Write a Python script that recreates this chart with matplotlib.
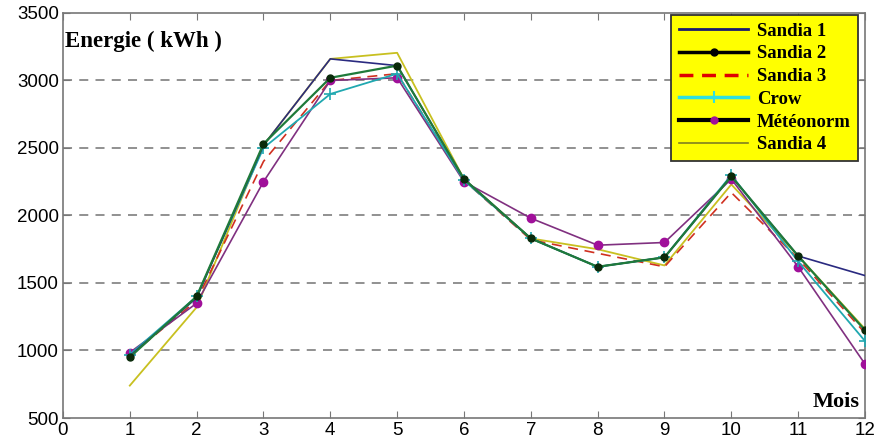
import matplotlib
matplotlib.use("Agg")
import matplotlib.pyplot as plt
from matplotlib.lines import Line2D

months = [1, 2, 3, 4, 5, 6, 7, 8, 9, 10, 11, 12]
sandia1 = [960, 1390, 2520, 3160, 3110, 2270, 1830, 1620, 1690, 2290, 1700, 1555]
sandia2 = [950, 1400, 2530, 3020, 3110, 2270, 1830, 1620, 1690, 2290, 1700, 1150]
sandia3 = [960, 1370, 2400, 3000, 3050, 2260, 1820, 1720, 1620, 2170, 1680, 1130]
crow = [970, 1400, 2500, 2900, 3050, 2260, 1830, 1620, 1690, 2300, 1660, 1070]
meteonorm = [985, 1350, 2250, 3000, 3020, 2250, 1980, 1780, 1800, 2270, 1620, 900]
sandia4 = [740, 1320, 2520, 3160, 3205, 2270, 1830, 1750, 1630, 2230, 1700, 1160]
legend_labels = ["Sandia 1", "Sandia 2", "Sandia 3", "Crow", "Météonorm", "Sandia 4"]

fig = plt.figure(figsize=(8.83, 4.40), dpi=100)
ax = fig.add_axes([0.0713, 0.05, 0.9083, 0.9205])

ax.plot(months, sandia4, color="#c8c020", lw=1.3, zorder=2)
ax.plot(months, sandia3, color="#d03020", lw=1.2, ls=(0, (6, 4)), zorder=2)
ax.plot(months, meteonorm, color="#803080", lw=1.2, marker="o", ms=6,
        mfc="#a0109a", mec="#a0109a", zorder=3)
ax.plot(months, crow, color="#20a8b0", lw=1.3, marker="+", ms=8, mew=1.2,
        mec="#20a8b0", zorder=3)
ax.plot(months, sandia1, color="#2a2a80", lw=1.2, zorder=3)
ax.plot(months, sandia2, color="#1f7a3a", lw=1.6, marker="o", ms=5,
        mfc="#0a2a0a", mec="#0a2a0a", zorder=4)

ax.set_xlim(0, 12)
ax.set_ylim(500, 3500)
ax.set_xticks(range(0, 13))
ax.set_yticks(range(500, 3501, 500))
for y in range(1000, 3001, 500):
    ax.axhline(y, color="#888888", lw=1.3, ls=(0, (5, 4)), zorder=1)

ax.tick_params(direction="in", top=True, right=True, length=5,
               color="#777777", labelsize=13.5, pad=3)
for lab in ax.get_xticklabels() + ax.get_yticklabels():
    lab.set_fontfamily("Liberation Sans")
for s in ax.spines.values():
    s.set_color("#777777")
    s.set_linewidth(1.2)

ax.text(0.003, 0.93, "Energie ( kWh )", transform=ax.transAxes,
        fontfamily="Liberation Serif", fontweight="bold", fontsize=16.5,
        ha="left", va="center")
ax.text(0.993, 0.04, "Mois", transform=ax.transAxes,
        fontfamily="Liberation Serif", fontweight="bold", fontsize=16,
        ha="right", va="center")

handles = [
    Line2D([], [], color="#1a1a70", lw=2),
    Line2D([], [], color="black", lw=2.5, marker="o", ms=5, mfc="black"),
    Line2D([], [], color="#e00000", lw=2.5, ls=(0, (4, 2.5))),
    Line2D([], [], color="#30e0e0", lw=2.5, marker="+", ms=9, mew=1.5),
    Line2D([], [], color="black", lw=3, marker="o", ms=5, mfc="#a0109a", mec="#a0109a"),
    Line2D([], [], color="#808020", lw=1.2),
]
leg = ax.legend(handles, legend_labels, loc="upper right",
                bbox_to_anchor=(0.9915, 0.995), frameon=True, fancybox=False,
                facecolor="#ffff00", edgecolor="#333333", framealpha=1,
                prop={"family": "Liberation Serif", "weight": "bold", "size": 13.5},
                handlelength=3.7, handletextpad=0.45, labelspacing=0.3,
                borderpad=0.4, borderaxespad=0)
leg.get_frame().set_linewidth(1.3)
leg.set_zorder(10)

fig.savefig("out.png", dpi=100)
